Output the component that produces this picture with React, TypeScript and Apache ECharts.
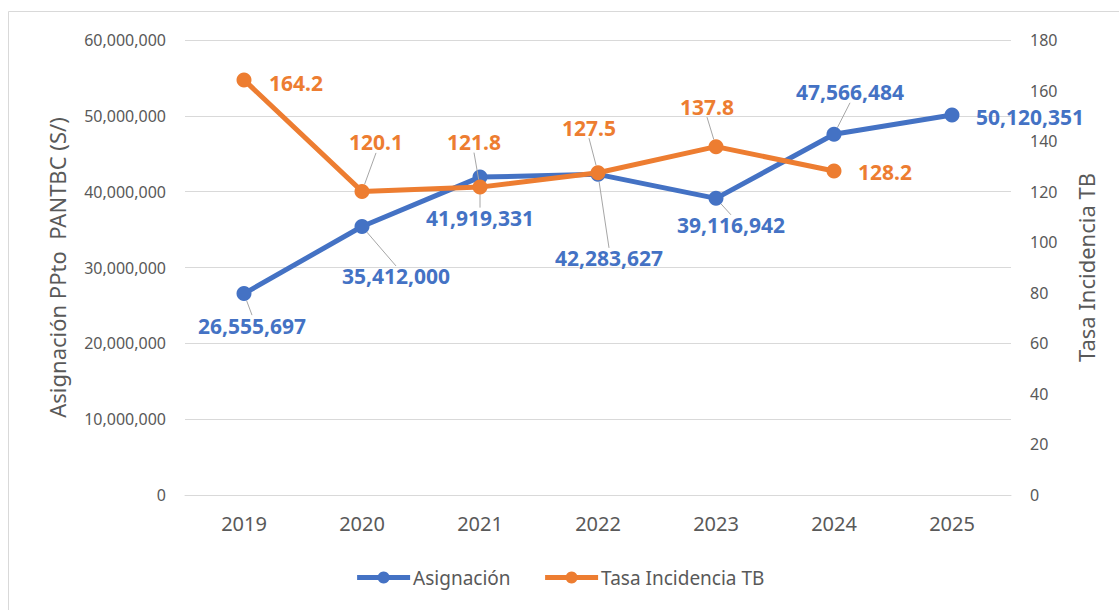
import React, { useEffect, useRef } from "react";
import * as echarts from "echarts";

const years = ["2019", "2020", "2021", "2022", "2023", "2024", "2025"];
const asignacion = [26555697, 35412000, 41919331, 42283627, 39116942, 47566484, 50120351];
const tasa = [164.2, 120.1, 121.8, 127.5, 137.8, 128.2, null];

const BLUE = "#4472C4";
const ORANGE = "#ED7D31";
const GRAY_TEXT = "#595959";
const FONT = "'Noto Sans', 'Open Sans', sans-serif";

// label offsets (label centre relative to point)
const blueOffsets: [number, number][] = [[8, 32], [34, 50], [0, 41], [11, 84], [15, 27], [16, -42], [78, 2]];
const orangeOffsets: [number, number][] = [[52, 3], [14, -49], [-6, -45], [-9, -45], [-9, -40], [51, 1]];
const blueNoLine = [6];
const orangeNoLine = [0, 5];

const fmt = (v: number) => v.toLocaleString("en-US");

export default function App() {
  const ref = useRef<HTMLDivElement>(null);
  useEffect(() => {
    if (!ref.current) return;
    const chart = echarts.init(ref.current, null, { renderer: "svg" });
    const labelBase = {
      show: true,
      position: "inside" as const,
      fontFamily: FONT,
      fontSize: 21,
      fontWeight: "bold" as const,
    };
    chart.setOption({
      animation: false,
      textStyle: { fontFamily: FONT },
      graphic: [
        {
          type: "rect",
          shape: { x: 8.5, y: 11.5, width: 1200, height: 700 },
          style: { fill: "none", stroke: "#d9d9d9", lineWidth: 1 },
          silent: true,
        },
      ],
      grid: { left: 185, right: 108, top: 40, bottom: 115, containLabel: false },
      legend: {
        bottom: 18,
        left: "center",
        itemWidth: 53,
        itemHeight: 15,
        itemGap: 32,
        lineStyle: { width: 5 },
        textStyle: { color: GRAY_TEXT, fontSize: 19, fontFamily: FONT, padding: [0, 0, 0, -2] },
        data: ["Asignación", "Tasa Incidencia TB"],
      },
      xAxis: {
        type: "category",
        data: years,
        boundaryGap: true,
        axisLine: { lineStyle: { color: "#d9d9d9" } },
        axisTick: { show: false },
        axisLabel: { color: GRAY_TEXT, fontSize: 20, margin: 18, fontFamily: FONT },
      },
      yAxis: [
        {
          type: "value",
          min: 0,
          max: 60000000,
          interval: 10000000,
          name: "Asignación PPto  PANTBC (S/)",
          nameLocation: "middle",
          nameGap: 117,
          nameTextStyle: { color: GRAY_TEXT, fontSize: 22, fontFamily: FONT },
          axisLine: { show: false },
          axisTick: { show: false },
          axisLabel: { color: GRAY_TEXT, fontSize: 16, margin: 19, formatter: (v: number) => fmt(v), fontFamily: FONT },
          splitLine: { lineStyle: { color: "#d9d9d9", width: 1 } },
        },
        {
          type: "value",
          min: 0,
          max: 180,
          interval: 20,
          position: "right",
          name: "Tasa Incidencia TB",
          nameLocation: "middle",
          nameRotate: 90,
          nameGap: 64,
          nameTextStyle: { color: GRAY_TEXT, fontSize: 22, fontFamily: FONT },
          axisLine: { show: false },
          axisTick: { show: false },
          axisLabel: { color: GRAY_TEXT, fontSize: 16, margin: 19, fontFamily: FONT },
          splitLine: { show: false },
        },
      ],
      series: [
        {
          name: "Asignación",
          type: "line",
          yAxisIndex: 0,
          data: asignacion.map((v, i) => ({
            value: v,
            labelLine: { show: !blueNoLine.includes(i) },
          })),
          symbol: "circle",
          symbolSize: 15,
          lineStyle: { color: BLUE, width: 5 },
          itemStyle: { color: BLUE },
          label: { ...labelBase, color: BLUE, formatter: (p: any) => fmt(p.value) },
          labelLine: { show: true, lineStyle: { color: "#a6a6a6", width: 1 } },
          labelLayout: (p: any) => ({ dx: blueOffsets[p.dataIndex][0], dy: blueOffsets[p.dataIndex][1] }),
          z: 3,
        },
        {
          name: "Tasa Incidencia TB",
          type: "line",
          yAxisIndex: 1,
          data: tasa.map((v, i) => ({
            value: v,
            labelLine: { show: !orangeNoLine.includes(i) },
          })),
          symbol: "circle",
          symbolSize: 15,
          lineStyle: { color: ORANGE, width: 5 },
          itemStyle: { color: ORANGE },
          label: { ...labelBase, color: ORANGE, formatter: (p: any) => String(p.value) },
          labelLine: { show: true, lineStyle: { color: "#a6a6a6", width: 1 } },
          labelLayout: (p: any) => {
            const o = orangeOffsets[p.dataIndex] || [0, 0];
            return { dx: o[0], dy: o[1] };
          },
          z: 4,
        },
      ],
    });
    return () => chart.dispose();
  }, []);
  return (
    <div
      ref={ref}
      style={{ position: "absolute", left: 0, top: 0, width: 1119, height: 610, background: "#fff" }}
    />
  );
}
